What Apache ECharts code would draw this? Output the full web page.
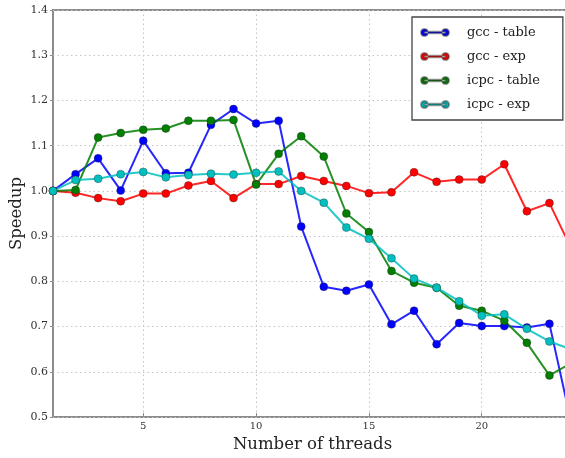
<!DOCTYPE html>
<html>
<head>
<meta charset="utf-8">
<script src="https://cdn.jsdelivr.net/npm/echarts@6/dist/echarts.min.js"></script>
<style>
  html, body { margin: 0; padding: 0; background: #fff; }
  #chart { width: 565px; height: 458px; }
</style>
</head>
<body>
<div id="chart"></div>
<script>
// Thread counts on the x axis
const threads = [1, 2, 3, 4, 5, 6, 7, 8, 9, 10, 11, 12, 13, 14, 15, 16, 17, 18, 19, 20, 21, 22, 23, 24];

// Speedup per thread count for each compiler / variant
const gccTable = [1.000, 1.037, 1.072, 1.001, 1.111, 1.039, 1.040, 1.146, 1.181, 1.149, 1.155, 0.921,
                  0.788, 0.779, 0.793, 0.705, 0.735, 0.661, 0.708, 0.701, 0.701, 0.698, 0.706, 0.480];
const gccExp   = [1.000, 0.996, 0.984, 0.977, 0.994, 0.994, 1.012, 1.022, 0.984, 1.015, 1.015, 1.033,
                  1.022, 1.011, 0.995, 0.997, 1.041, 1.020, 1.025, 1.025, 1.059, 0.955, 0.973, 0.869];
const icpcTable = [1.000, 1.002, 1.118, 1.128, 1.135, 1.138, 1.155, 1.155, 1.157, 1.014, 1.082, 1.121,
                   1.076, 0.950, 0.909, 0.823, 0.797, 0.786, 0.746, 0.735, 0.713, 0.664, 0.592, 0.620];
const icpcExp  = [1.000, 1.024, 1.027, 1.037, 1.042, 1.030, 1.035, 1.038, 1.036, 1.040, 1.043, 1.000,
                  0.974, 0.919, 0.894, 0.851, 0.806, 0.786, 0.756, 0.724, 0.727, 0.695, 0.667, 0.649];

const seriesNames = ['gcc - table', 'gcc - exp', 'icpc - table', 'icpc - exp'];
const seriesColors = ['#0000ff', '#ff0000', '#007f00', '#00bfbf'];
const seriesData = [gccTable, gccExp, icpcTable, icpcExp];

// Legend glyph: two dots joined by a short line
const legendIcon = 'path://M0,5a5,5 0 1,0 10,0a5,5 0 1,0 -10,0Z M5,4L35,4L35,6L5,6Z M30,5a5,5 0 1,0 10,0a5,5 0 1,0 -10,0Z';

const serif = '"DejaVu Serif", "Liberation Serif", serif';
const chart = echarts.init(document.getElementById('chart'), null, { renderer: 'canvas' });

const showEvery5 = (idx) => threads[idx] % 5 === 0;
const gridDots = { color: '#c4c4c4', type: [1.5, 3], width: 1 };

chart.setOption({
  animation: false,
  backgroundColor: '#ffffff',
  grid: {
    left: 53, right: -7, top: 10, bottom: 41,
    outerBoundsMode: 'none',
    containLabel: false,
    show: true, borderColor: '#8c8c8c', borderWidth: 2, backgroundColor: 'transparent'
  },
  legend: {
    orient: 'vertical',
    left: 412, top: 17,
    padding: [9, 23, 9, 8],
    itemGap: 11,
    itemWidth: 28, itemHeight: 7,
    backgroundColor: '#ffffff',
    borderColor: '#444444', borderWidth: 1.3,
    textStyle: { fontFamily: serif, fontSize: 13, color: '#222', padding: [0, 0, 0, 13] },
    data: seriesNames.map((n) => ({ name: n, icon: legendIcon }))
  },
  xAxis: {
    type: 'category',
    data: threads,
    boundaryGap: false,
    name: 'Number of threads',
    nameLocation: 'middle',
    nameGap: 19,
    nameMoveOverlap: false,
    nameTextStyle: { fontFamily: serif, fontSize: 16.5, color: '#222', verticalAlign: 'top' },
    axisLine: { show: false },
    axisTick: { show: true, inside: true, length: 4, interval: showEvery5, lineStyle: { color: '#888' } },
    axisLabel: { interval: showEvery5, fontFamily: serif, fontSize: 10, color: '#333', margin: 4 },
    splitLine: { show: true, interval: showEvery5, lineStyle: gridDots }
  },
  yAxis: {
    type: 'value',
    min: 0.5, max: 1.4, interval: 0.1,
    name: 'Speedup',
    nameLocation: 'middle',
    nameGap: 36,
    nameMoveOverlap: false,
    nameTextStyle: { fontFamily: serif, fontSize: 16.5, color: '#222', verticalAlign: 'middle' },
    axisLine: { show: false },
    axisTick: { show: true, inside: false, length: 3, lineStyle: { color: '#888' } },
    axisLabel: { fontFamily: serif, fontSize: 11, color: '#333', margin: 5, formatter: (v) => v.toFixed(1) },
    splitLine: { show: true, lineStyle: gridDots }
  },
  series: seriesNames.map((name, i) => ({
    name,
    type: 'line',
    data: seriesData[i],
    symbol: 'circle',
    symbolSize: 8,
    clip: true,
    lineStyle: { color: seriesColors[i], width: 2, opacity: 0.85 },
    itemStyle: { color: seriesColors[i], borderColor: 'rgba(40,40,40,0.45)', borderWidth: 0.8 },
    emphasis: { disabled: true }
  }))
});
</script>
</body>
</html>
